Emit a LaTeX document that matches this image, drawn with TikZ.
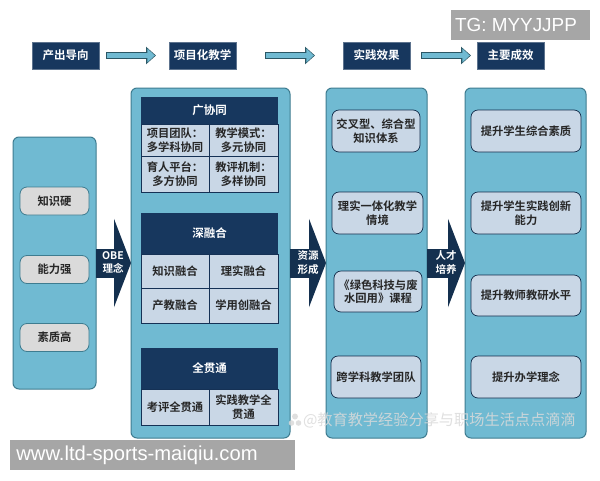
\documentclass[tikz,border=0pt]{standalone}
\usepackage{fontspec}
\setmainfont{Noto Sans CJK SC}[BoldFont={Noto Sans CJK SC Bold}]
\setsansfont{Liberation Sans}
\usetikzlibrary{arrows.meta,calc}
\definecolor{navy}{HTML}{17375E}
\definecolor{arrownavy}{HTML}{14304F}
\definecolor{teal}{HTML}{70BAD2}
\definecolor{edgeteal}{HTML}{3E7C90}
\definecolor{cellblue}{HTML}{C9D7E6}
\definecolor{pillgray}{HTML}{DADADA}
\definecolor{markgray}{HTML}{A6A6A6}
\tikzset{
  x=1pt,y=-1pt,
  bx/.style 2 args={minimum width=#1pt,minimum height=#2pt},
  every node/.style={inner sep=0pt,outer sep=0pt,align=center,anchor=north west},
  cjktext/.style={font=\bfseries\fontsize{11.3}{13.6}\selectfont,text=black!85},
  titlebox/.style={fill=navy,draw=navy!70!white,line width=.5pt,text=white,font=\bfseries\fontsize{11.5}{14}\selectfont},
  panel/.style={fill=teal,draw=edgeteal,line width=1pt,rounded corners=6pt},
  header/.style={fill=navy,text=white,font=\bfseries\fontsize{11.5}{14}\selectfont},
  cell/.style={cjktext,fill=cellblue,draw=navy!90!black,line width=.6pt},
  pill/.style={cjktext,fill=pillgray,draw=edgeteal,line width=.8pt,rounded corners=7pt},
  softbox/.style={cjktext,fill=cellblue,draw=navy!80!black,line width=.7pt,rounded corners=7pt},
  flowout/.style={draw=edgeteal!70!black,line width=6.5pt,-{Triangle[length=10pt,width=17pt]}},
  flowin/.style={draw=teal,line width=4.7pt,-{Triangle[length=7.5pt,width=13.5pt]}},
  bigarrow/.style={draw=arrownavy,line width=29pt,-{Triangle[length=17pt,width=88pt]}},
  bigtext/.style={text=white,anchor=center,font=\bfseries\fontsize{10.5}{13.5}\selectfont},
  tag/.style={fill=markgray,text=white,font=\sffamily},
}
\newcommand{\flow}[4]{%
  \draw[flowout,shorten <=#3pt,shorten >=#4pt] (#1.east) -- (#2.west);
  \draw[flowin,shorten <=#3pt+1pt,shorten >=#4pt+1.2pt] (#1.east) -- (#2.west);}
\begin{document}
\begin{tikzpicture}
\useasboundingbox (0,0) rectangle (600,480);
\fill[white] (0,0) rectangle (600,480);
% top row
\node[titlebox,bx={67}{27}] (t1) at (32,42) {产出导向};
\node[titlebox,bx={67}{27}] (t2) at (169,42) {项目化教学};
\node[titlebox,bx={67}{27}] (t3) at (343,42) {实践效果};
\node[titlebox,bx={67}{27}] (t4) at (477,42) {主要成效};
\flow{t1}{t2}{7}{13}
\coordinate (f2s) at (265,55.5);
\draw[flowout,shorten >=28pt] (f2s) -- (t3.west);
\draw[flowin,shorten <=1pt,shorten >=29.2pt] (f2s) -- (t3.west);
\flow{t3}{t4}{11}{6}
% panels
\node[panel,bx={83}{252}] (p1) at (13,137) {};
\node[panel,bx={159}{350}] (p2) at (131,88) {};
\node[panel,bx={101}{350}] (p3) at (326,88) {};
\node[panel,bx={121}{350}] (p4) at (465,88) {};
% big arrows
\draw[bigarrow] (p1.east) -- (p2.west);
\draw[bigarrow] (p2.east) -- (p3.west);
\draw[bigarrow] (p3.east) -- (p4.west);
\node[bigtext] (a1) at (113,262.5) {OBE\\理念};
\node[bigtext] (a2) at (308,262.5) {资源\\形成};
\node[bigtext] (a3) at (446,262.5) {人才\\培养};
% left pills
\node[pill,bx={69}{28}] (l1) at (20,187) {知识硬};
\node[pill,bx={69}{28}] (l2) at (20,255.5) {能力强};
\node[pill,bx={69}{28}] (l3) at (20,323.5) {素质高};
% table 1
\node[header,bx={137}{27}] (h1) at (141,97) {广协同};
\node[cell,bx={68}{32}] (c11) at (141,124) {项目团队：\\多学科协同};
\node[cell,bx={69}{32}] (c12) at (209,124) {教学模式：\\多元协同};
\node[cell,bx={68}{36}] (c13) at (141,156) {育人平台：\\多方协同};
\node[cell,bx={69}{36}] (c14) at (209,156) {教评机制：\\多样协同};
% table 2
\node[header,bx={137}{41}] (h2) at (141,213) {深融合};
\node[cell,bx={68}{34}] (c21) at (141,254) {知识融合};
\node[cell,bx={69}{34}] (c22) at (209,254) {理实融合};
\node[cell,bx={68}{35}] (c23) at (141,288) {产教融合};
\node[cell,bx={69}{35}] (c24) at (209,288) {学用创融合};
% table 3
\node[header,bx={137}{41}] (h3) at (141,348) {全贯通};
\node[cell,bx={68}{36}] (c31) at (141,389) {考评全贯通};
\node[cell,bx={69}{36}] (c32) at (209,389) {实践教学全\\贯通};
% panel 3
\node[softbox,bx={88}{42}] (m1) at (332,110) {交叉型、综合型\\知识体系};
\node[softbox,bx={91}{42}] (m2) at (332,192) {理实一体化教学\\情境};
\node[softbox,bx={88}{41}] (m3) at (334,271) {《绿色科技与废\\水回用》课程};
\node[softbox,bx={90}{42}] (m4) at (331,356) {跨学科教学团队};
% panel 4
\node[softbox,bx={110}{42}] (r1) at (471,110) {提升学生综合素质};
\node[softbox,bx={110}{42}] (r2) at (471,192) {提升学生实践创新\\能力};
\node[softbox,bx={110}{41}] (r3) at (471,275) {提升教师教研水平};
\node[softbox,bx={110}{42}] (r4) at (471,356) {提升办学理念};
% overlays
\node[tag,bx={139}{30},font=\sffamily\fontsize{18.9}{22}\selectfont] (tg) at (451,10) {TG: MYYJJPP\hspace{9pt}};
\node[tag,bx={285}{30},font=\sffamily\fontsize{20.2}{24}\selectfont] (www) at (10,440) {www.ltd-sports-maiqiu.com\hspace{31pt}};
\node[anchor=west,text=pillgray,opacity=.85,font=\fontsize{15.2}{17}\selectfont] (wm) at (303,420) {@教育教学经验分享与职场生活点点滴滴};
\fill[pillgray,opacity=.85] (295,416.5) circle (3pt) (291.5,423) circle (2.8pt) (298.5,423) circle (2.8pt);
\end{tikzpicture}
\end{document}
